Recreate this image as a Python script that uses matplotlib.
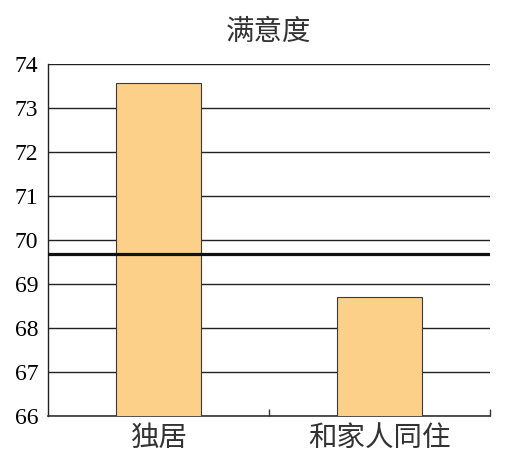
import matplotlib
matplotlib.use('Agg')
import matplotlib.pyplot as plt
import numpy as np

plt.rcParams['font.family'] = ['Noto Sans CJK SC', 'DejaVu Sans']

# data
categories = ['独居', '和家人同住']
satisfaction = [73.57, 68.70]
mean_value = 69.68
y_ticks = [66, 67, 68, 69, 70, 71, 72, 73, 74]

fig = plt.figure(figsize=(5.19, 4.70), dpi=100)
ax = fig.add_axes([0.0925, 0.1149, 0.8516, 0.7489])

x = np.arange(len(categories))
ax.bar(x, satisfaction, width=0.385, color='#FDD08A', edgecolor='#3a3a3a',
       linewidth=0.8, zorder=3)
ax.axhline(mean_value, color='#111111', linewidth=2.3, zorder=4)

ax.set_ylim(66, 74)
ax.set_xlim(-0.5, 1.5)
ax.set_yticks(y_ticks)
ax.set_yticklabels([str(v) for v in y_ticks], family='Liberation Serif', fontsize=17)
ax.yaxis.grid(True, color='#222222', linewidth=1.0, zorder=1)
ax.tick_params(axis='y', length=0, pad=7)

# category labels under bars, tick marks on category boundaries
ax.set_xticks([0.5, 1.5])
ax.set_xticklabels([])
ax.set_xticks(x, minor=True)
ax.set_xticklabels(categories, minor=True, fontsize=20.5, color='#333333')
ax.tick_params(axis='x', which='major', direction='in', length=5, width=1, color='#333333')
ax.tick_params(axis='x', which='minor', length=0, pad=5)

for side in ['top', 'right']:
    ax.spines[side].set_visible(False)
ax.spines['left'].set_color('#222222')
ax.spines['bottom'].set_color('#333333')
ax.spines['left'].set_linewidth(1.0)
ax.spines['bottom'].set_linewidth(1.2)

fig.text(0.0925 + 0.8516 / 2, 0.932, '满意度', ha='center', va='center',
         fontsize=20.5, color='#333333')

fig.savefig('out.png', dpi=100)
